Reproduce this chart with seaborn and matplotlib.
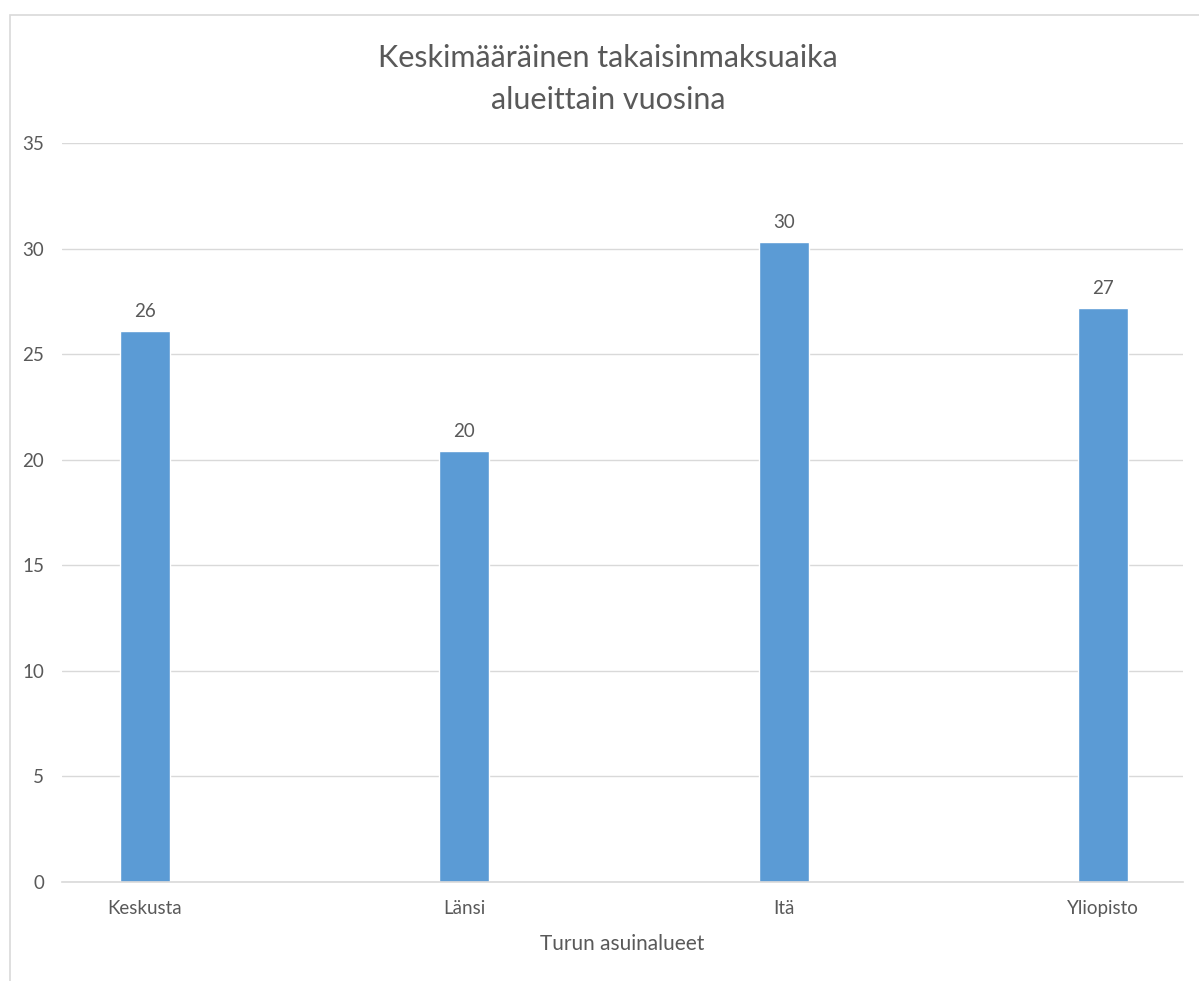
import matplotlib
matplotlib.use("Agg")
import matplotlib.pyplot as plt
import seaborn as sns
import pandas as pd
from matplotlib.patches import Rectangle

categories = ["Keskusta", "Länsi", "Itä", "Yliopisto"]
values = [26.1, 20.4, 30.3, 27.2]
labels = ["26", "20", "30", "27"]
yticks = [0, 5, 10, 15, 20, 25, 30, 35]

title = "Keskimääräinen takaisinmaksuaika\nalueittain vuosina"
xlabel = "Turun asuinalueet"

sns.set_theme(style="white")
plt.rcParams['font.family'] = ['Lato', 'DejaVu Sans']

TEXT = "#595959"
GRID = "#D9D9D9"
BAR = "#5B9BD5"

df = pd.DataFrame({"alue": categories, "arvo": values})

W, H = 1199, 981
fig = plt.figure(figsize=(W / 100, H / 100), dpi=100)
fig.patch.set_facecolor("white")

# chart frame
fig.add_artist(Rectangle((10 / W, -0.05), 1.2, 1 - 15 / H + 0.05, transform=fig.transFigure,
                         fill=False, edgecolor="#D9D9D9", linewidth=1.2))

ax = fig.add_axes([62 / W, 1 - 882 / H, (1183 - 62) / W, (882 - 143) / H])
sns.barplot(data=df, x="alue", y="arvo", color=BAR, width=0.157, ax=ax, saturation=1)

ax.set_xlim(-0.26, 3.25)
ax.set_ylim(0, 35)
ax.set_yticks(yticks)
ax.yaxis.grid(True, color=GRID, linewidth=1)
ax.set_axisbelow(True)
for s in ["top", "right", "left"]:
    ax.spines[s].set_visible(False)
ax.spines["bottom"].set_color(GRID)
ax.spines["bottom"].set_linewidth(1.2)
ax.tick_params(axis="both", length=0, colors=TEXT, labelsize=13.5)
ax.tick_params(axis="x", pad=13)
ax.tick_params(axis="y", pad=13)
ax.set_ylabel("")
ax.set_xlabel(xlabel, color=TEXT, fontsize=15, labelpad=12)

for c in ax.containers:
    ax.bar_label(c, labels=labels, padding=8, color=TEXT, fontsize=13.5)

fig.text(608 / W, 1 - 79 / H, title, ha="center", va="center", fontsize=22,
         color=TEXT, linespacing=1.57)

fig.savefig("out.png", dpi=100)
